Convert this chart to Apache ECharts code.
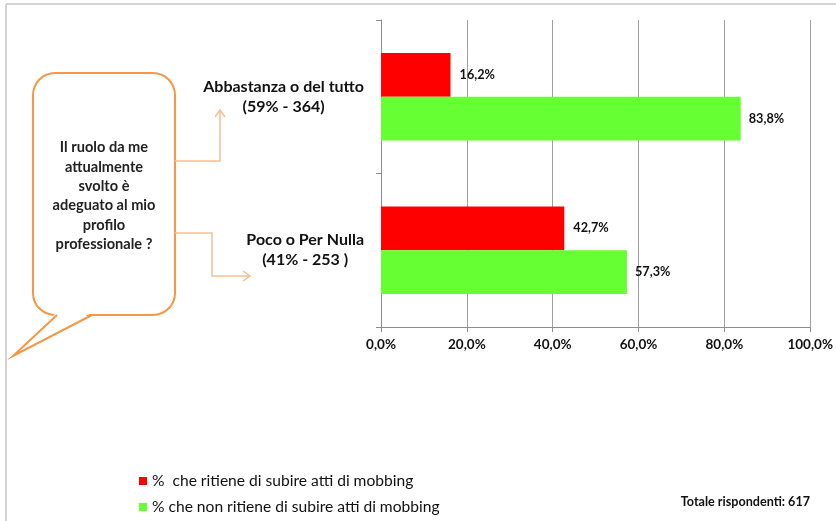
<!DOCTYPE html>
<html>
<head>
<meta charset="utf-8">
<script src="https://cdn.jsdelivr.net/npm/echarts@6/dist/echarts.min.js"></script>
<style>html,body{margin:0;padding:0;background:#fff;}#c{width:836px;height:521px;}</style>
</head>
<body>
<div id="c"></div>
<script>
var categories = ['Abbastanza o del tutto\n(59% - 364)', 'Poco o Per Nulla\n(41% - 253 )'];
var seriesNames = ['%  che ritiene di subire atti di mobbing', '% che non ritiene di subire atti di mobbing'];
var mobbing = [16.2, 42.7];
var noMobbing = [83.8, 57.3];
var questionLines = ['Il ruolo da me', 'attualmente', 'svolto è', 'adeguato al mio', 'profilo', 'professionale ?'];
var footnote = 'Totale rispondenti: 617';

var FONT = 'Lato';
function pct(v) { return v.toFixed(1).replace('.', ',') + '%'; }

var chart = echarts.init(document.getElementById('c'), null, {renderer: 'canvas'});
var arrowColor = '#F9BE8E';
var bubbleColor = '#F79646';

chart.setOption({
  animation: false,
  backgroundColor: '#fff',
  textStyle: {fontFamily: FONT},
  grid: {left: 381, right: 22, top: 20, bottom: 194, containLabel: false},
  legend: {
    orient: 'vertical', left: 134, top: 468,
    itemWidth: 8, itemHeight: 8, itemGap: 10,
    icon: 'rect',
    textStyle: {fontFamily: FONT, fontSize: 15.6, color: '#111', padding: [0, 0, 0, 0]},
    data: seriesNames
  },
  xAxis: {
    type: 'value', min: 0, max: 100, interval: 20,
    axisLine: {show: true, lineStyle: {color: '#8c8c8c'}},
    axisTick: {show: true, length: 5, lineStyle: {color: '#8c8c8c'}},
    splitLine: {show: true, lineStyle: {color: '#a0a0a0'}},
    axisLabel: {margin: 11, fontFamily: FONT, fontWeight: 'bold', fontSize: 13.5, color: '#111',
      formatter: function (v) { return pct(v); }}
  },
  yAxis: {
    type: 'category', inverse: true, data: categories,
    axisLine: {show: true, lineStyle: {color: '#8c8c8c'}},
    axisTick: {show: true, length: 5, lineStyle: {color: '#8c8c8c'}},
    splitLine: {show: false},
    axisLabel: {
      margin: 17, align: 'right', fontFamily: FONT,
      formatter: function (v) {
        return v.split('\n').map(function (s) { return '{c|' + s + '}'; }).join('\n');
      },
      rich: {c: {align: 'center', fontFamily: FONT, fontWeight: 'bold', fontSize: 16, color: '#111', lineHeight: 20}}
    }
  },
  series: [
    {
      name: seriesNames[0], type: 'bar', data: mobbing, barGap: '0%', barCategoryGap: '43%',
      itemStyle: {color: '#FF0000'},
      label: {show: true, position: 'right', distance: 9, fontFamily: FONT, fontWeight: 'bold', fontSize: 12.7, color: '#111',
        formatter: function (p) { return pct(p.value); }}
    },
    {
      name: seriesNames[1], type: 'bar', data: noMobbing, barGap: '0%', barCategoryGap: '43%',
      itemStyle: {color: '#66FF33'},
      label: {show: true, position: 'right', distance: 8, fontFamily: FONT, fontWeight: 'bold', fontSize: 12.7, color: '#111',
        formatter: function (p) { return pct(p.value); }}
    }
  ],
  graphic: [
    // frame
    {type: 'line', shape: {x1: 6, y1: 4, x2: 836, y2: 4}, style: {stroke: '#d4d4d4', lineWidth: 2}, silent: true},
    {type: 'line', shape: {x1: 6, y1: 4, x2: 6, y2: 521}, style: {stroke: '#d4d4d4', lineWidth: 2}, silent: true},
    // bubble
    {type: 'rect', shape: {x: 33, y: 73, width: 142, height: 242, r: 22},
      style: {fill: '#fff', stroke: bubbleColor, lineWidth: 2}, silent: true},
    {type: 'polygon', shape: {points: [[57, 312], [13, 356], [93, 312]]},
      style: {fill: '#fff', stroke: null}, silent: true},
    {type: 'polyline', shape: {points: [[57, 315], [13, 356], [92, 315]]},
      style: {stroke: bubbleColor, lineWidth: 2, fill: null}, silent: true},
    {type: 'text', x: 104, y: 196,
      style: {text: questionLines.join('\n'), fontFamily: FONT, fontWeight: 'bold', fontSize: 14.6, lineHeight: 19.4,
        fill: '#222', align: 'center', verticalAlign: 'middle'}, silent: true},
    // arrows
    {type: 'polyline', shape: {points: [[175, 161], [220, 161], [220, 111]]},
      style: {stroke: arrowColor, lineWidth: 1.5, fill: null}, silent: true},
    {type: 'polyline', shape: {points: [[215, 117], [220, 110], [225, 117]]},
      style: {stroke: arrowColor, lineWidth: 1.5, fill: null}, silent: true},
    {type: 'polyline', shape: {points: [[175, 233], [212, 233], [212, 276], [249, 276]]},
      style: {stroke: arrowColor, lineWidth: 1.5, fill: null}, silent: true},
    {type: 'polyline', shape: {points: [[243, 271], [250, 276], [243, 281]]},
      style: {stroke: arrowColor, lineWidth: 1.5, fill: null}, silent: true},
    // footnote
    {type: 'text', right: 26, top: 495,
      style: {text: footnote, fontFamily: FONT, fontWeight: 'bold', fontSize: 12.6, fill: '#111'}, silent: true}
  ]
});
</script>
</body>
</html>
